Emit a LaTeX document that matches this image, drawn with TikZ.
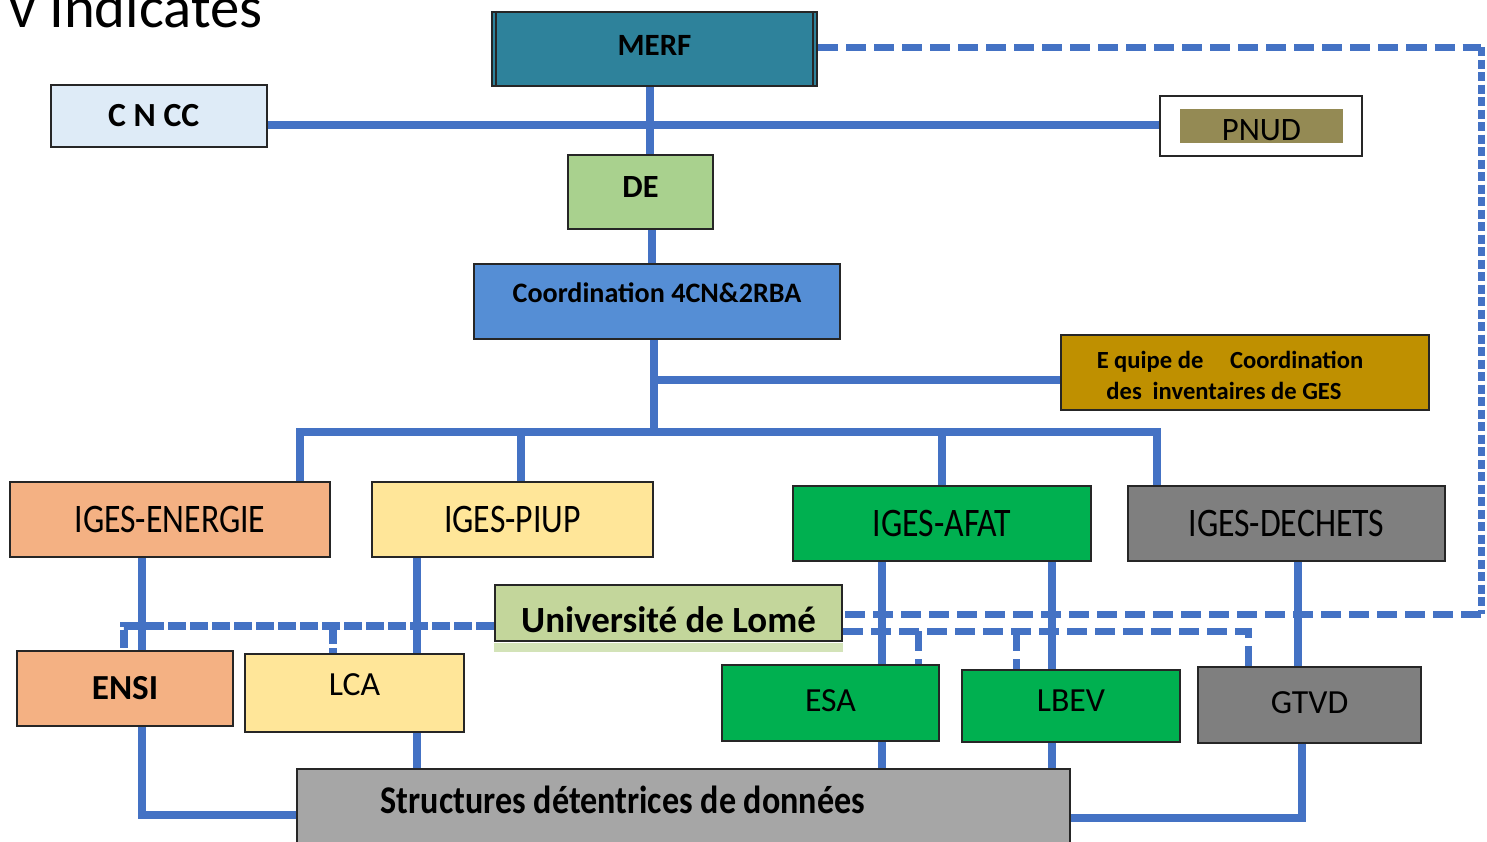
\documentclass[tikz,border=0pt]{standalone}
\usepackage{fontspec}
\setmainfont{Carlito}
\usepackage{graphicx}
\usetikzlibrary{positioning}
\definecolor{merfteal}{HTML}{2E829B}
\definecolor{cnccblue}{HTML}{DEEBF7}
\definecolor{pnudolive}{HTML}{948A54}
\definecolor{degreen}{HTML}{A9D18E}
\definecolor{coordblue}{HTML}{558ED5}
\definecolor{equipegold}{HTML}{BF9000}
\definecolor{orangebox}{HTML}{F4B183}
\definecolor{yellowbox}{HTML}{FFE699}
\definecolor{greenbox}{HTML}{00B050}
\definecolor{greybox}{HTML}{7F7F7F}
\definecolor{unigreen}{HTML}{C3D69B}
\definecolor{unistrip}{HTML}{D3E3B8}
\definecolor{structgrey}{HTML}{A6A6A6}
\definecolor{linkblue}{HTML}{4472C4}
\newcommand{\lift}[2]{\raisebox{#1}[\height][\depth]{#2}}
\newcommand{\tall}[1]{\scalebox{1}[1.2]{#1}}

\begin{document}
\begin{tikzpicture}[
    x=0.01cm, y=-0.01cm,
    mybox/.style={rectangle, draw=black!85, line width=0.6pt, inner sep=0pt, align=center},
    bigbold/.style={font=\bfseries\fontsize{9.6}{11}\selectfont},
    plain/.style={font=\fontsize{9.6}{11}\selectfont},
    mylink/.style={draw=linkblue, line width=0.8mm},
    mydash/.style={draw=linkblue, line width=0.7mm, dash pattern=on 2mm off 0.8mm},
    mydots/.style={draw=linkblue, line width=0.7mm, dash pattern=on 0.9mm off 0.35mm},
    mydense/.style={draw=linkblue, line width=0.75mm, dash pattern=on 1.8mm off 0.4mm}
]
\useasboundingbox (0,0) rectangle (1487,841);

% Nodes
\node[anchor=base west, font=\fontsize{16.7}{20}\selectfont] (title) at (-3,27) {v Indicates};
\node[mybox, fill=merfteal, minimum width=3.25cm, minimum height=0.74cm, font=\bfseries\fontsize{8.8}{10}\selectfont] (merf) at (654.5,49) {\lift{1pt}{MERF}};
\node[mybox, fill=cnccblue, minimum width=2.16cm, minimum height=0.62cm, bigbold] (cncc) at (159,116) {C\hspace{2.2pt}N\hspace{2.2pt}CC\hspace*{3pt}};
\node[mybox, fill=white, minimum width=2.02cm, minimum height=0.6cm] (pnud) at (1261,126) {};
\node[fill=pnudolive, inner sep=0pt, minimum width=1.63cm, minimum height=0.34cm, font=\fontsize{9.3}{11}\selectfont] (pnudtxt) at (1261.5,126) {\lift{-1.2pt}{PNUD}};
\node[mybox, fill=degreen, minimum width=1.45cm, minimum height=0.74cm, font=\bfseries\fontsize{9.2}{11}\selectfont] (de) at (640.5,192) {\lift{1.5pt}{DE}};
\node[mybox, fill=coordblue, minimum width=3.66cm, minimum height=0.75cm, font=\bfseries\fontsize{8}{10}\selectfont] (coord) at (657,301.5) {\lift{2.4pt}{Coordination 4CN\&2RBA}};
\node[mybox, fill=equipegold, minimum width=3.68cm, minimum height=0.75cm, font=\bfseries\fontsize{7}{8.8}\selectfont] (equipe) at (1245,372.5)
    {\lift{-0.8pt}{E\hspace{1.5pt}quipe de\hspace{6pt} Coordination}\hspace*{8.5pt}\\\lift{-0.8pt}{des\hspace{1.5pt} inventaires de GES}\hspace*{12pt}};
\node[mybox, fill=orangebox, minimum width=3.2cm, minimum height=0.75cm, plain] (energie) at (170,519.5) {\tall{IGES-ENERGIE}};
\node[mybox, fill=yellowbox, minimum width=2.81cm, minimum height=0.75cm, plain] (piup) at (512.5,519.5) {\tall{IGES-PIUP}};
\node[mybox, fill=greenbox, minimum width=2.98cm, minimum height=0.75cm, plain] (afat) at (942,523.5) {\tall{IGES-AFAT}};
\node[mybox, fill=greybox, minimum width=3.17cm, minimum height=0.75cm, plain] (dechets) at (1286.5,523.5) {\tall{IGES-DECHETS}};
\node[mybox, fill=unigreen, minimum width=3.47cm, minimum height=0.56cm, font=\bfseries\fontsize{10.5}{12}\selectfont] (univ) at (668.5,613) {\lift{-2pt}{Université de Lomé}};
\fill[unistrip] ([yshift=-0.3pt]univ.south west) rectangle ([yshift=-0.1cm]univ.south east);
\node[mybox, fill=orangebox, minimum width=2.16cm, minimum height=0.75cm, font=\bfseries\fontsize{10}{12}\selectfont] (ensi) at (125,688.5) {ENSI};
\node[mybox, fill=yellowbox, minimum width=2.19cm, minimum height=0.78cm, plain] (lca) at (354.5,693) {\lift{2.3pt}{LCA}};
\node[mybox, fill=greenbox, minimum width=2.17cm, minimum height=0.76cm, plain] (esa) at (830.5,703) {\lift{0.6pt}{ESA}};
\node[mybox, fill=greenbox, minimum width=2.18cm, minimum height=0.72cm, plain] (lbev) at (1071,706) {\lift{1.5pt}{LBEV}};
\node[mybox, fill=greybox, minimum width=2.23cm, minimum height=0.76cm, plain] (gtvd) at (1309.5,705) {\lift{0.6pt}{GTVD}};
\node[mybox, fill=structgrey, minimum width=7.73cm, minimum height=1.02cm, font=\bfseries\fontsize{9.7}{11}\selectfont] (structures) at (683.5,820)
    {\lift{0.2cm}{\scalebox{1}[1.15]{Structures détentrices de données}}\hspace*{1.21cm}};
\draw[black!85, line width=0.6pt] ([xshift=0.05cm]merf.north west) -- ([xshift=0.05cm]merf.south west);
\draw[black!85, line width=0.6pt] ([xshift=-0.05cm]merf.north east) -- ([xshift=-0.05cm]merf.south east);

% Paths
\draw[mylink] (merf.south -| 650,0) -- (de.north -| 650,0);
\draw[mylink] (cncc.east |- 0,125) -- (pnud.west |- 0,125);
\draw[mylink] (de.south -| 652,0) -- (coord.north -| 652,0);
\coordinate (bus) at (654,432);
\draw[mylink] (coord.south -| bus) -- (bus);
\draw[mylink] (equipe.west |- 0,380) -- (bus |- 0,380);
\draw[mylink] (energie.north -| 300,0) |- (bus) -| (dechets.north -| 1157,0);
\draw[mylink] (piup.north -| 521,0) -- (bus -| 521,0);
\draw[mylink] (afat.north) -- (bus -| afat.north);
\draw[mylink] (energie.south -| 142,0) -- (ensi.north -| 142,0);
\draw[mylink] (ensi.south -| 142,0) |- (structures.west |- 0,815);
\draw[mylink] (piup.south -| 417,0) -- (lca.north -| 417,0);
\draw[mylink] (lca.south -| 417,0) -- (structures.north -| 417,0);
\draw[mylink] (afat.south -| 882,0) -- (esa.north -| 882,0);
\draw[mylink] (esa.south -| 882,0) -- (structures.north -| 882,0);
\draw[mylink] (afat.south -| 1052,0) -- (lbev.north -| 1052,0);
\draw[mylink] (lbev.south -| 1052,0) -- (structures.north -| 1052,0);
\draw[mylink] (dechets.south -| 1298,0) -- (gtvd.north -| 1298,0);
\draw[mylink] (gtvd.south -| 1302,0) |- (structures.east |- 0,818);

% Dashed links
\coordinate (ne) at (1481,47);
\coordinate (se) at (1481,614);
\draw[mydash] (merf.east |- ne) -- (ne);
\draw[mydots] (ne) -- (se);
\draw[mydash] (se) -- (univ.east |- se);
\coordinate (sw) at (124,626);
\draw[mydense] (univ.west |- sw) -| (ensi.north -| sw);
\draw[mydense] (sw -| 333,0) -- (lca.north -| 333,0);
\coordinate (lowbus) at (1248,631);
\draw[mydash] (univ.east |- lowbus) -| (gtvd.north -| lowbus);
\draw[mydash] (lowbus -| 918,0) -- (esa.north -| 918,0);
\draw[mydash] (lowbus -| 1016,0) -- (lbev.north -| 1016,0);

\end{tikzpicture}
\end{document}
